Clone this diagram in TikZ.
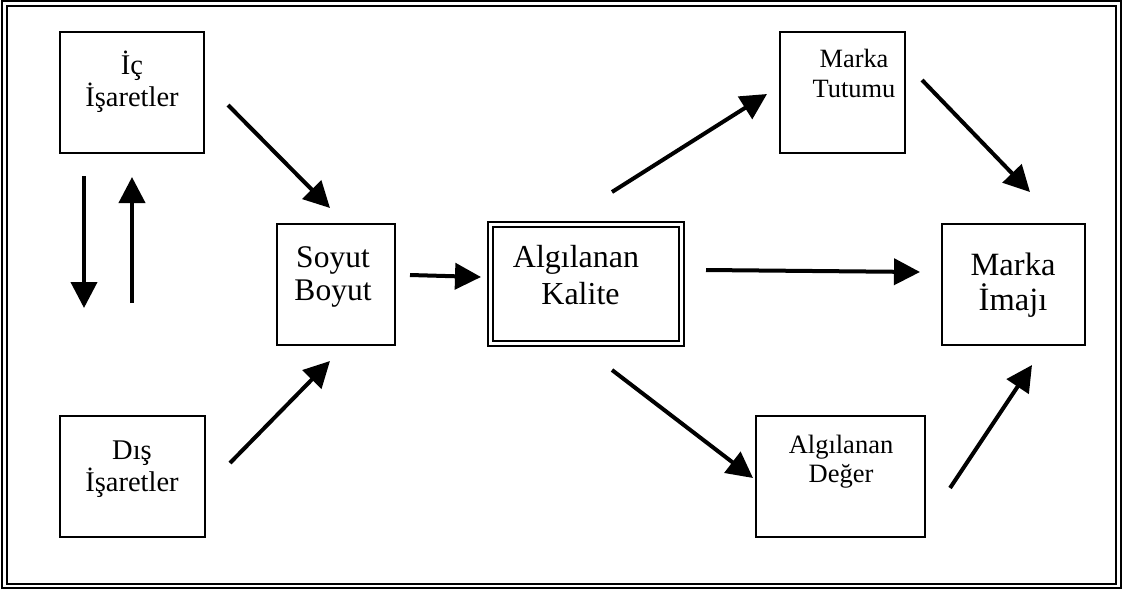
\documentclass[tikz,border=0pt]{standalone}
\usepackage{fontspec}
\setmainfont{Liberation Serif}
\usetikzlibrary{arrows.meta}
% two centred lines at a given size and leading; baseline = first line
\newcommand\boxtext[3]{{\fontsize{#1}{#2}\selectfont\begin{tabular}[t]{@{}c@{}}#3\end{tabular}}}
\begin{document}
\begin{tikzpicture}[x=1pt,y=-1pt,
  box/.style={draw, line width=1.3pt, inner sep=0pt, outer sep=0pt, anchor=north west},
  dbox/.style={draw, line width=2pt, double, double distance=3pt, inner sep=0pt, outer sep=0pt, anchor=north west},
  lbl/.style={anchor=base, inner sep=0pt, outer sep=0pt},
  flow/.style={line width=4pt, -{Triangle[length=26pt,width=26pt]}},
]
\useasboundingbox (0,0) rectangle (1123,592);
% outer double frame
\draw[line width=2pt, double, double distance=2.5pt] (4.5,3.5) rectangle (1118.5,586);

% boxes
\node[box, minimum width=144pt, minimum height=121pt] (ic)    at (60,32) {};
\node[box, minimum width=145pt, minimum height=121pt] (dis)   at (60,416) {};
\node[box, minimum width=118pt, minimum height=121pt] (soyut) at (277,224) {};
\node[dbox, minimum width=191pt, minimum height=119pt] (kalite) at (490.5,224.5) {};
\node[box, minimum width=143pt, minimum height=121pt] (imaj)  at (942,224) {};
\node[box, minimum width=125pt, minimum height=121pt] (tutum) at (780,32) {};
\node[box, minimum width=169pt, minimum height=121pt] (deger) at (756,416) {};

% labels
\node[lbl] (icT)     at (132,74)    {\boxtext{28.5}{28.5}{İç\\İşaretler}};
\node[lbl] (disT)    at (132,459.5) {\boxtext{28.5}{28.5}{Dış\\İşaretler}};
\node[lbl] (soyutT)  at (333,267)   {\boxtext{31.5}{33}{Soyut\\Boyut}};
\node[lbl] (kaliteT) at (576,267)   {\boxtext{32}{37}{Algılanan\\\hspace*{9pt}Kalite}};
\node[lbl] (imajT)   at (1013,275)  {\boxtext{32.5}{29.5}{Marka\\İmajı}};
\node[lbl] (tutumT)  at (854,67)    {\boxtext{26.4}{30}{Marka\\Tutumu}};
\node[lbl] (degerT)  at (841,453)   {\boxtext{26.5}{29}{Algılanan\\Değer}};

% connector end points
\coordinate (d1) at (84,176);   \coordinate (d2) at (84,308);
\coordinate (u1) at (132,303);  \coordinate (u2) at (132,177);
\coordinate (is1) at (228,105); \coordinate (is2) at (330,208);
\coordinate (ds1) at (230,463); \coordinate (ds2) at (330,361);
\coordinate (sk1) at (410,275); \coordinate (sk2) at (481,277);
\coordinate (kt1) at (612,192); \coordinate (kt2) at (767,94);
\coordinate (ki1) at (706,270); \coordinate (ki2) at (920,272);
\coordinate (kd1) at (612,370); \coordinate (kd2) at (753,478);
\coordinate (ti1) at (922,80);  \coordinate (ti2) at (1030,192);
\coordinate (di1) at (950,488); \coordinate (di2) at (1032,365);

% connectors
\draw[flow] (d1) -- (d2);
\draw[flow] (u1) -- (u2);
\draw[flow] (is1) -- (is2);
\draw[flow] (ds1) -- (ds2);
\draw[flow] (sk1) -- (sk2);
\draw[flow] (kt1) -- (kt2);
\draw[flow] (ki1) -- (ki2);
\draw[flow] (kd1) -- (kd2);
\draw[flow] (ti1) -- (ti2);
\draw[flow] (di1) -- (di2);
\end{tikzpicture}
\end{document}
